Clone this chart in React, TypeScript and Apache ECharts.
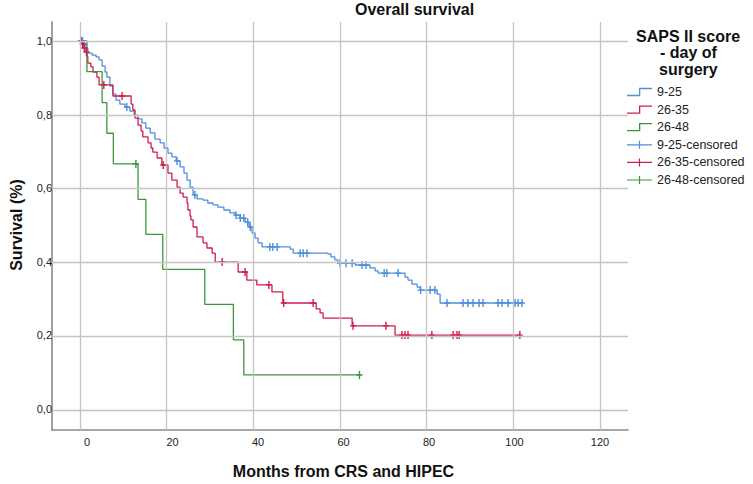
import React, { useEffect, useRef } from "react";
import * as echarts from "echarts";

// ---- Data (months, survival proportion) ----
const xTicks = [0, 20, 40, 60, 80, 100, 120];
const yTicks = [0, 0.2, 0.4, 0.6, 0.8, 1.0];

const seriesNames = ["9-25", "26-35", "26-48"];
const censoredNames = ["9-25-censored", "26-35-censored", "26-48-censored"];
const legendTitleLines = ["SAPS II score", "- day of", "surgery"];

const survival925 = [
  [0, 1.0], [0.9, 0.992], [1.4, 0.981], [1.8, 0.967], [2.8, 0.962], [3.7, 0.957],
  [4.4, 0.949], [5.1, 0.932], [5.8, 0.916], [6.2, 0.902], [6.9, 0.878], [7.6, 0.856],
  [8.3, 0.84], [9.2, 0.829], [10.4, 0.821], [11.5, 0.81], [12.5, 0.799], [13.4, 0.789],
  [14.3, 0.778], [15.2, 0.764], [16.2, 0.751], [17.3, 0.734], [18.5, 0.724], [19.4, 0.71],
  [20.3, 0.696], [21.2, 0.686], [22.2, 0.675], [23.1, 0.659], [24.0, 0.642], [24.7, 0.623],
  [25.4, 0.604], [26.1, 0.583], [27.0, 0.572], [28.4, 0.569], [29.5, 0.561], [30.7, 0.556],
  [31.8, 0.55], [33.2, 0.542], [34.6, 0.534], [35.8, 0.528], [36.9, 0.52], [38.1, 0.509],
  [39.0, 0.496], [39.7, 0.48], [40.4, 0.466], [41.1, 0.453], [42.0, 0.442], [48.5, 0.436],
  [49.2, 0.425], [57.2, 0.423], [57.9, 0.415], [58.8, 0.407], [59.5, 0.398], [63.5, 0.393],
  [66.9, 0.385], [68.1, 0.377], [68.8, 0.371], [75.0, 0.36], [75.7, 0.352], [76.6, 0.341],
  [77.8, 0.333], [78.5, 0.325], [82.4, 0.314], [83.1, 0.29], [102.0, 0.29],
];

const survival2635 = [
  [0, 1.0], [0.5, 0.992], [0.9, 0.981], [1.4, 0.97], [1.6, 0.959], [1.8, 0.94],
  [2.5, 0.93], [3.0, 0.916], [3.9, 0.902], [4.4, 0.881], [7.6, 0.851], [11.8, 0.829],
  [12.2, 0.813], [12.7, 0.791], [13.4, 0.772], [14.1, 0.756], [14.5, 0.74], [15.7, 0.724],
  [16.4, 0.71], [16.8, 0.699], [17.8, 0.683], [18.9, 0.664], [20.3, 0.642], [21.2, 0.623],
  [22.4, 0.604], [23.1, 0.588], [23.8, 0.577], [24.7, 0.561], [24.9, 0.542], [25.4, 0.526],
  [25.6, 0.515], [26.1, 0.496], [27.0, 0.469], [28.4, 0.453], [29.3, 0.439], [30.5, 0.425],
  [31.2, 0.401], [36.5, 0.374], [38.5, 0.352], [40.8, 0.339], [44.3, 0.32], [46.8, 0.29],
  [54.5, 0.274], [55.4, 0.263], [56.1, 0.249], [62.8, 0.228], [72.7, 0.203], [101.5, 0.203],
];

const survival2648 = [
  [0, 1.0], [1.6, 0.917], [5.1, 0.833], [6.2, 0.75], [7.7, 0.667], [13.4, 0.571],
  [15.2, 0.476], [19.1, 0.381], [28.8, 0.286], [35.4, 0.19], [37.8, 0.095], [64.5, 0.095],
];

const censored925 = [
  [0.3, 1.0], [0.6, 1.0], [1.0, 0.992], [10.8, 0.821], [22.4, 0.675], [26.5, 0.583],
  [36.0, 0.528], [37.0, 0.52], [37.8, 0.52], [38.7, 0.509], [39.3, 0.496], [43.8, 0.442],
  [44.5, 0.442], [45.5, 0.442], [50.8, 0.425], [51.5, 0.425], [52.4, 0.425], [60.0, 0.398],
  [61.4, 0.398], [62.8, 0.398], [65.1, 0.393], [66.0, 0.393], [70.2, 0.371], [70.8, 0.371],
  [73.4, 0.371], [78.6, 0.325], [80.8, 0.325], [81.9, 0.325], [84.7, 0.29], [88.4, 0.29],
  [89.5, 0.29], [90.7, 0.29], [92.1, 0.29], [93.0, 0.29], [96.5, 0.29], [97.4, 0.29],
  [98.8, 0.29], [100.4, 0.29], [101.1, 0.29], [102.0, 0.29],
];

const censored2635 = [
  [0.2, 1.0], [0.6, 0.992], [1.0, 0.981], [1.5, 0.97], [5.5, 0.881], [9.7, 0.851],
  [19.2, 0.664], [32.8, 0.401], [38.1, 0.374], [43.6, 0.339], [47.0, 0.29], [53.8, 0.29],
  [63.0, 0.228], [70.6, 0.228], [74.3, 0.203], [75.0, 0.203], [75.7, 0.203], [81.2, 0.203],
  [86.1, 0.203], [87.0, 0.203], [87.5, 0.203], [101.5, 0.203],
];

const censored2648 = [[12.9, 0.667], [64.5, 0.095]];

const colors = ["#4f8fdb", "#cf1d4b", "#3a973a"];

// ---- Styling ----
const FONT = '"Liberation Sans", Arial, Helvetica, sans-serif';
const TITLE_FONT = `bold 16px ${FONT}`;
const GRID_COLOR = "#c4c4c4";
const AXIS_COLOR = "#8a8a8a";
const stepIcon = "path://M0,7 L12,7 L12,0 L25,0 L25,1.3 L13.3,1.3 L13.3,8.3 L0,8.3 Z";
const censorIcon = "path://M0,3.4 L25,3.4 L25,4.6 L0,4.6 Z M11.9,0 L13.1,0 L13.1,8 L11.9,8 Z";
const plusSymbol = "path://M0,3.3 L6,3.3 L6,4.7 L0,4.7 Z M2.3,0 L3.7,0 L3.7,8 L2.3,8 Z";

function measure(text: string, font: string): number {
  const c = document.createElement("canvas").getContext("2d");
  if (!c) return text.length * 8;
  c.font = font;
  return c.measureText(text).width;
}

function buildOption() {
  const curves = [survival925, survival2635, survival2648];
  const censors = [censored925, censored2635, censored2648];

  const lineSeries = curves.map((d, i) => ({
    type: "line",
    name: seriesNames[i],
    xAxisIndex: 0,
    yAxisIndex: 0,
    step: "end",
    data: d,
    symbol: "none",
    showSymbol: false,
    silent: true,
    z: 3,
    lineStyle: { color: colors[i], width: 1.3 },
    itemStyle: { color: colors[i] },
  }));

  const censorSeries = censors.map((d, i) => ({
    type: "scatter",
    name: censoredNames[i],
    xAxisIndex: 0,
    yAxisIndex: 0,
    data: d,
    symbol: plusSymbol,
    symbolSize: [6, 8],
    silent: true,
    z: 4,
    itemStyle: { color: colors[i], opacity: 1 },
  }));

  const gridSeries = {
    type: "line",
    name: "grid",
    xAxisIndex: 0,
    yAxisIndex: 0,
    data: [],
    silent: true,
    z: 1,
    markLine: {
      silent: true,
      animation: false,
      symbol: ["none", "none"],
      label: { show: false },
      emphasis: { disabled: true },
      lineStyle: { color: GRID_COLOR, width: 1.3, type: "solid" },
      data: [
        ...xTicks.map((v) => ({ xAxis: v })),
        ...yTicks.map((v) => ({ yAxis: v })),
      ],
    },
  };

  const legendTitle = legendTitleLines.map((t, i) => ({
    type: "text",
    left: Math.round(688 - measure(t, TITLE_FONT) / 2),
    top: 28 + i * 16.5,
    silent: true,
    style: {
      text: t,
      font: TITLE_FONT,
      fill: "#111",
    },
  }));

  return {
    animation: false,
    backgroundColor: "#ffffff",
    textStyle: { fontFamily: FONT },
    title: {
      text: "Overall survival",
      left: 355,
      top: 1,
      padding: 0,
      textStyle: { fontSize: 16, fontWeight: "bold", color: "#111", fontFamily: FONT },
    },
    grid: [
      { left: 52, right: 125, top: 22, bottom: 54 },
      { left: 80, right: 153, top: 41, bottom: 74 },
    ],
    xAxis: [
      {
        type: "value",
        gridIndex: 0,
        min: -6.46,
        max: 126.46,
        axisLine: { show: true, onZero: false, lineStyle: { color: AXIS_COLOR, width: 1.6 } },
        axisTick: { show: false },
        axisLabel: { show: false },
        splitLine: { show: false },
      },
      {
        type: "value",
        gridIndex: 1,
        min: 0,
        max: 120,
        interval: 20,
        axisLine: { show: false },
        axisTick: { show: false },
        splitLine: { show: false },
        axisLabel: { margin: 27, fontSize: 11, color: "#222", fontFamily: FONT },
        name: "Months from CRS and HIPEC",
        nameLocation: "middle",
        nameGap: 54,
        nameTextStyle: { fontSize: 16, fontWeight: "bold", color: "#111", fontFamily: FONT },
      },
    ],
    yAxis: [
      {
        type: "value",
        gridIndex: 0,
        min: -0.0542,
        max: 1.0515,
        axisLine: { show: true, onZero: false, lineStyle: { color: AXIS_COLOR, width: 1.6 } },
        axisTick: { show: false },
        axisLabel: { show: false },
        splitLine: { show: false },
      },
      {
        type: "value",
        gridIndex: 1,
        min: 0,
        max: 1,
        interval: 0.2,
        axisLine: { show: false },
        axisTick: { show: false },
        splitLine: { show: false },
        axisLabel: {
          margin: 35,
          fontSize: 11,
          color: "#222",
          fontFamily: FONT,
          formatter: (v: number) => v.toFixed(1).replace(".", ","),
        },
        name: "Survival (%)",
        nameLocation: "middle",
        nameGap: 63,
        nameTextStyle: { fontSize: 16, fontWeight: "bold", color: "#111", fontFamily: FONT },
      },
    ],
    legend: {
      orient: "vertical",
      left: 627,
      top: 85,
      padding: 0,
      itemWidth: 25,
      itemHeight: 10,
      itemGap: 3.6,
      selectedMode: false,
      itemStyle: { borderWidth: 0 },
      textStyle: { fontSize: 12.5, color: "#222", fontFamily: FONT, lineHeight: 14 },
      data: [
        ...seriesNames.map((n) => ({ name: n, icon: stepIcon })),
        ...censoredNames.map((n) => ({ name: n, icon: censorIcon })),
      ],
    },
    graphic: legendTitle,
    series: [gridSeries, ...lineSeries, ...censorSeries],
  };
}

export default function App() {
  const ref = useRef<HTMLDivElement>(null);
  useEffect(() => {
    document.body.style.margin = "0";
    if (!ref.current) return;
    const chart = echarts.init(ref.current, null, { renderer: "svg" });
    chart.setOption(buildOption() as any);
    return () => {
      chart.dispose();
    };
  }, []);
  return <div ref={ref} style={{ width: 753, height: 484 }} />;
}
